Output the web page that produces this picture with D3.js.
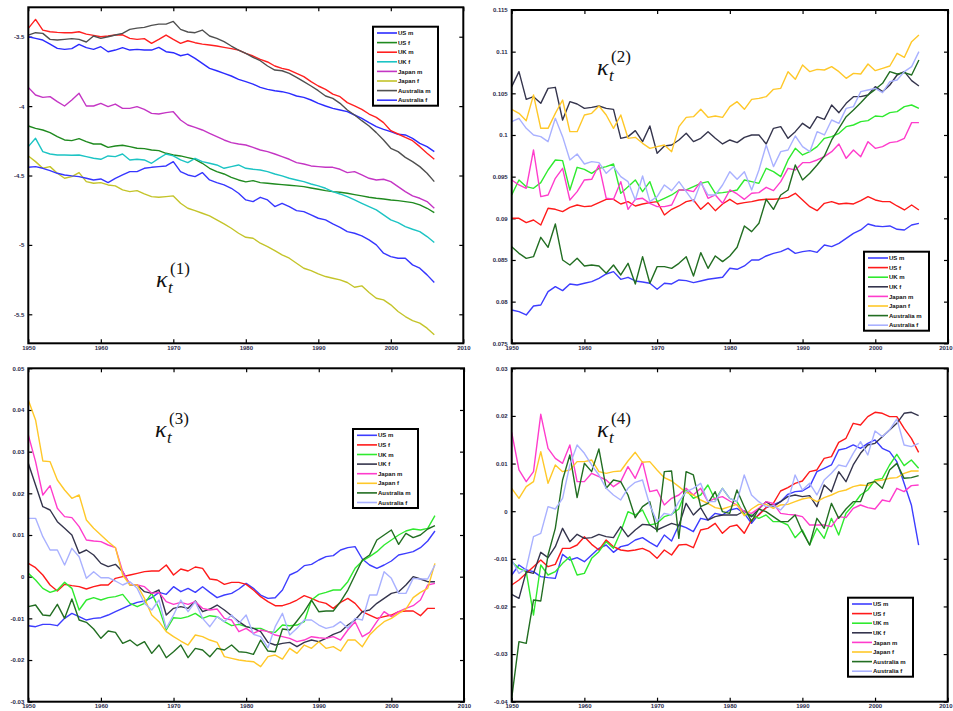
<!DOCTYPE html>
<html><head><meta charset="utf-8">
<script src="https://cdn.jsdelivr.net/npm/d3@7"></script>
<style>body{margin:0;background:#fff}svg{display:block}</style>
</head><body>
<svg id="chart" width="953" height="711"></svg>
<script>
// ---------- categories ----------
const years = d3.range(1950, 2007);
const seriesNames = ["US m","US f","UK m","UK f","Japan m","Japan f","Australia m","Australia f"];
const xTicks = [1950,1960,1970,1980,1990,2000,2010];
const k1YTicks = [-5.5,-5,-4.5,-4,-3.5];
const k2YTicks = [0.075,0.08,0.085,0.09,0.095,0.1,0.105,0.11,0.115];
const k3YTicks = [-0.03,-0.02,-0.01,0,0.01,0.02,0.03,0.04,0.05];
const k4YTicks = [-0.04,-0.03,-0.02,-0.01,0,0.01,0.02,0.03];

// ---------- kappa(1) ----------
const k1_USm = [-3.5,-3.512,-3.524,-3.553,-3.584,-3.591,-3.586,-3.555,-3.579,-3.591,-3.572,-3.608,-3.596,-3.579,-3.596,-3.591,-3.596,-3.596,-3.577,-3.608,-3.615,-3.637,-3.625,-3.656,-3.692,-3.728,-3.745,-3.764,-3.783,-3.807,-3.824,-3.841,-3.865,-3.879,-3.889,-3.896,-3.908,-3.927,-3.937,-3.956,-3.98,-3.999,-4.016,-4.028,-4.04,-4.064,-4.088,-4.119,-4.148,-4.167,-4.184,-4.203,-4.208,-4.232,-4.268,-4.292,-4.328];
const k1_USf = [-4.143,-4.16,-4.172,-4.191,-4.22,-4.244,-4.249,-4.234,-4.256,-4.273,-4.273,-4.297,-4.287,-4.282,-4.292,-4.304,-4.306,-4.316,-4.321,-4.34,-4.352,-4.359,-4.371,-4.383,-4.412,-4.448,-4.472,-4.489,-4.513,-4.532,-4.546,-4.537,-4.551,-4.556,-4.561,-4.566,-4.57,-4.575,-4.58,-4.59,-4.599,-4.609,-4.616,-4.621,-4.628,-4.638,-4.647,-4.657,-4.664,-4.669,-4.676,-4.681,-4.688,-4.695,-4.712,-4.736,-4.767];
const k1_UKm = [-3.44,-3.375,-3.452,-3.464,-3.469,-3.471,-3.471,-3.464,-3.481,-3.49,-3.5,-3.495,-3.488,-3.486,-3.512,-3.519,-3.514,-3.548,-3.519,-3.488,-3.519,-3.548,-3.529,-3.543,-3.553,-3.56,-3.567,-3.577,-3.586,-3.596,-3.62,-3.639,-3.663,-3.682,-3.711,-3.728,-3.74,-3.764,-3.788,-3.824,-3.855,-3.879,-3.913,-3.932,-3.975,-3.999,-4.023,-4.057,-4.081,-4.119,-4.177,-4.201,-4.225,-4.249,-4.292,-4.34,-4.383];
const k1_UKf = [-4.292,-4.232,-4.328,-4.345,-4.352,-4.352,-4.354,-4.352,-4.364,-4.376,-4.383,-4.359,-4.364,-4.345,-4.388,-4.383,-4.388,-4.412,-4.376,-4.345,-4.359,-4.388,-4.407,-4.376,-4.4,-4.412,-4.424,-4.448,-4.436,-4.424,-4.448,-4.455,-4.46,-4.472,-4.489,-4.503,-4.52,-4.532,-4.544,-4.561,-4.575,-4.592,-4.616,-4.633,-4.652,-4.676,-4.7,-4.724,-4.748,-4.784,-4.82,-4.839,-4.868,-4.887,-4.904,-4.94,-4.983];
const k1_JPm = [-3.865,-3.92,-3.937,-3.932,-3.968,-3.999,-3.956,-3.908,-3.999,-3.999,-3.98,-4.004,-3.985,-4.016,-4.016,-4.004,-4.023,-4.052,-4.057,-4.047,-4.04,-4.1,-4.136,-4.153,-4.172,-4.196,-4.22,-4.244,-4.263,-4.273,-4.28,-4.297,-4.316,-4.328,-4.345,-4.364,-4.383,-4.407,-4.417,-4.431,-4.436,-4.441,-4.441,-4.455,-4.479,-4.472,-4.496,-4.52,-4.532,-4.527,-4.544,-4.58,-4.616,-4.647,-4.664,-4.688,-4.736];
const k1_JPf = [-4.359,-4.4,-4.448,-4.436,-4.484,-4.52,-4.508,-4.479,-4.544,-4.556,-4.551,-4.568,-4.575,-4.604,-4.616,-4.609,-4.633,-4.652,-4.657,-4.652,-4.647,-4.7,-4.736,-4.753,-4.772,-4.791,-4.82,-4.849,-4.88,-4.916,-4.945,-4.952,-4.988,-5.012,-5.041,-5.072,-5.096,-5.132,-5.168,-5.185,-5.209,-5.228,-5.24,-5.252,-5.271,-5.305,-5.295,-5.343,-5.384,-5.396,-5.432,-5.48,-5.516,-5.545,-5.564,-5.6,-5.648];
const k1_AUm = [-3.488,-3.471,-3.476,-3.519,-3.524,-3.519,-3.514,-3.519,-3.538,-3.495,-3.512,-3.5,-3.488,-3.476,-3.447,-3.438,-3.433,-3.418,-3.409,-3.409,-3.39,-3.447,-3.466,-3.471,-3.452,-3.495,-3.512,-3.536,-3.567,-3.596,-3.62,-3.649,-3.673,-3.711,-3.74,-3.745,-3.764,-3.793,-3.824,-3.855,-3.889,-3.927,-3.944,-3.98,-4.028,-4.064,-4.105,-4.143,-4.191,-4.244,-4.304,-4.328,-4.369,-4.4,-4.436,-4.484,-4.544];
const k1_AUf = [-4.441,-4.436,-4.448,-4.465,-4.484,-4.496,-4.503,-4.508,-4.52,-4.532,-4.525,-4.551,-4.52,-4.496,-4.472,-4.472,-4.448,-4.441,-4.436,-4.431,-4.4,-4.472,-4.496,-4.508,-4.479,-4.532,-4.551,-4.568,-4.592,-4.628,-4.676,-4.688,-4.657,-4.676,-4.724,-4.7,-4.724,-4.753,-4.76,-4.784,-4.808,-4.82,-4.849,-4.873,-4.904,-4.916,-4.935,-4.964,-5.0,-5.06,-5.084,-5.096,-5.096,-5.144,-5.168,-5.216,-5.271];

// ---------- kappa(2) ----------
const k2_USm = [0.079,0.0788,0.0784,0.07948,0.0796,0.0812,0.0818,0.08132,0.08212,0.082,0.0822,0.0824,0.0828,0.08332,0.0836,0.08268,0.08292,0.08248,0.08236,0.0822,0.08148,0.0822,0.08212,0.0826,0.08252,0.08228,0.08248,0.08268,0.0828,0.08292,0.084,0.08388,0.08428,0.085,0.085,0.08548,0.0858,0.086,0.0864,0.0858,0.086,0.08612,0.08592,0.0868,0.0866,0.087,0.0876,0.0882,0.0886,0.08932,0.08908,0.089,0.08908,0.08868,0.0886,0.0892,0.0894];
const k2_USf = [0.09,0.09,0.08948,0.0898,0.0892,0.0912,0.09108,0.0908,0.09132,0.0916,0.0914,0.09148,0.09188,0.09228,0.09228,0.09172,0.092,0.09148,0.09172,0.09188,0.092,0.0904,0.09108,0.09148,0.092,0.0922,0.09108,0.09188,0.09092,0.09172,0.09228,0.09172,0.09188,0.092,0.0922,0.09228,0.09228,0.09236,0.09252,0.093,0.0922,0.0914,0.09092,0.0918,0.092,0.09172,0.0918,0.09172,0.09212,0.0926,0.0922,0.092,0.092,0.09148,0.091,0.0916,0.091];
const k2_UKm = [0.0928,0.0946,0.0938,0.0936,0.09428,0.0958,0.097,0.09692,0.0934,0.09612,0.09588,0.0954,0.096,0.0962,0.09652,0.093,0.0938,0.0946,0.0932,0.0944,0.092,0.0924,0.0928,0.0934,0.0934,0.0938,0.0942,0.0944,0.093,0.09308,0.0932,0.0934,0.0946,0.0944,0.0942,0.096,0.0956,0.095,0.097,0.0984,0.0976,0.098,0.0986,0.0996,0.0998,0.1002,0.101,0.1012,0.1016,0.10172,0.10228,0.1022,0.10268,0.1028,0.1034,0.1036,0.1032];
const k2_UKf = [0.1058,0.1076,0.10428,0.1046,0.1038,0.1056,0.10572,0.1018,0.104,0.10372,0.1032,0.10332,0.10348,0.1032,0.10308,0.0996,0.0998,0.10052,0.0992,0.10108,0.0978,0.09868,0.0988,0.0994,0.1002,0.0992,0.0996,0.1004,0.0996,0.09892,0.0994,0.09908,0.09972,0.1,0.1,0.09892,0.1008,0.101,0.0996,0.1004,0.1014,0.1008,0.1022,0.10188,0.1036,0.10268,0.1038,0.1046,0.1046,0.1048,0.1058,0.1052,0.106,0.1072,0.1076,0.10652,0.10588];
const k2_JPm = [0.0946,0.094,0.0936,0.0982,0.0926,0.0928,0.0948,0.096,0.0922,0.0932,0.0946,0.09468,0.0964,0.0924,0.09228,0.0944,0.09108,0.09228,0.0924,0.0918,0.0914,0.0914,0.0916,0.0934,0.0934,0.0932,0.0944,0.0924,0.0928,0.0918,0.0934,0.09292,0.09228,0.093,0.09308,0.09372,0.09332,0.0944,0.096,0.0958,0.09668,0.09668,0.097,0.0974,0.098,0.09892,0.0972,0.0982,0.0974,0.0992,0.0984,0.0986,0.09908,0.0992,0.0996,0.10148,0.10148];
const k2_JPf = [0.10308,0.1026,0.10172,0.1048,0.1008,0.1008,0.1026,0.1042,0.1004,0.1004,0.1024,0.1026,0.10348,0.1024,0.1008,0.1024,0.0996,0.09972,0.099,0.0984,0.0986,0.0988,0.098,0.101,0.10212,0.1022,0.10308,0.10212,0.10228,0.10212,0.1034,0.104,0.10308,0.10428,0.1044,0.1046,0.10548,0.1056,0.1076,0.10668,0.1084,0.1076,0.10788,0.1078,0.1082,0.1076,0.1068,0.1074,0.10732,0.10852,0.10772,0.108,0.10828,0.1098,0.10932,0.1112,0.112];
const k2_AUm = [0.0866,0.0858,0.0852,0.0854,0.08772,0.08652,0.08932,0.085,0.0844,0.0852,0.08428,0.0844,0.08428,0.0834,0.0844,0.0832,0.0846,0.08212,0.0854,0.0822,0.0842,0.0842,0.084,0.0846,0.0854,0.08308,0.08588,0.084,0.08548,0.0848,0.08548,0.08652,0.08908,0.0884,0.0894,0.09228,0.09108,0.0928,0.0934,0.0964,0.0946,0.0954,0.0964,0.09748,0.0994,0.1008,0.1022,0.103,0.10388,0.1048,0.10548,0.1062,0.1076,0.10732,0.10748,0.1072,0.109];
const k2_AUf = [0.1016,0.102,0.1008,0.1,0.0998,0.0992,0.102,0.0998,0.097,0.09772,0.09652,0.0968,0.09668,0.0954,0.0962,0.095,0.0944,0.0922,0.09508,0.092,0.0926,0.094,0.09332,0.0944,0.0932,0.092,0.09428,0.0928,0.0928,0.094,0.0956,0.09468,0.0956,0.0934,0.0958,0.0988,0.0962,0.098,0.0982,0.09988,0.0986,0.098,0.1004,0.1,0.1018,0.1014,0.1032,0.1034,0.1052,0.1054,0.1056,0.10508,0.1064,0.1066,0.1076,0.1082,0.11];

// ---------- kappa(3) ----------
const k3_USm = [-0.01176,-0.012,-0.01144,-0.01144,-0.01176,-0.01,-0.0088,-0.0096,-0.0104,-0.01,-0.00984,-0.0092,-0.0084,-0.0076,-0.0068,-0.00616,-0.00584,-0.00504,-0.00376,-0.00424,-0.0024,-0.0036,-0.0028,-0.00376,-0.0024,-0.00376,-0.00504,-0.0044,-0.004,-0.00296,-0.0016,-0.0028,-0.0044,-0.0052,-0.00504,-0.0032,0.0004,0.0012,0.00264,0.00296,0.004,0.0048,0.00504,0.0064,0.00696,0.0072,0.00424,0.0028,0.002,0.0028,0.00376,0.0052,0.0056,0.006,0.00696,0.00856,0.01096];
const k3_USf = [0.0032,0.00216,0.0004,-0.002,-0.00344,-0.00184,-0.00216,-0.0024,-0.00296,-0.0024,-0.002,-0.002,-0.0004,0,0.0004,0.0008,0.0012,0.00136,0.00136,0.0028,0.0004,0.00184,0.00136,0.00232,0.002,-0.00056,-0.0008,-0.00184,-0.00136,-0.00136,-0.00184,-0.0032,-0.0048,-0.006,-0.00696,-0.00696,-0.0064,-0.0056,-0.00456,-0.0052,-0.006,-0.0064,-0.0076,-0.00616,-0.0052,-0.0064,-0.0084,-0.0092,-0.01,-0.0096,-0.0092,-0.0084,-0.00824,-0.00824,-0.00936,-0.0076,-0.0076];
const k3_UKm = [0.0008,-0.0008,-0.0028,-0.00376,-0.0032,-0.00136,-0.0028,-0.008,-0.0056,-0.00504,-0.0056,-0.00504,-0.0048,-0.00424,-0.0064,-0.0072,-0.0064,-0.004,-0.0076,-0.0128,-0.00984,-0.01,-0.0096,-0.0088,-0.01,-0.00936,-0.0096,-0.0108,-0.01176,-0.01144,-0.012,-0.0124,-0.0124,-0.0132,-0.01336,-0.0116,-0.01176,-0.0116,-0.0108,-0.0056,-0.00424,-0.00376,-0.0032,-0.0032,-0.0012,0.002,0.00376,0.0048,0.006,0.0076,0.0088,0.01,0.01096,0.01144,0.0112,0.0116,0.01464];
const k3_UKf = [0.0272,0.022,0.0168,0.016,0.0132,0.0116,0.01,0.0056,0.0064,0.0052,0.0032,0.0024,0.00296,0.0012,-0.002,-0.002,-0.0036,-0.004,-0.0032,-0.0092,-0.0076,-0.0072,-0.0076,-0.00584,-0.0084,-0.00776,-0.0068,-0.008,-0.00936,-0.0108,-0.012,-0.0124,-0.0132,-0.01576,-0.0164,-0.016,-0.01576,-0.0168,-0.01576,-0.0152,-0.0156,-0.0148,-0.01384,-0.0132,-0.0116,-0.0104,-0.0084,-0.008,-0.0064,-0.0052,-0.004,-0.0036,-0.002,0,-0.00056,-0.0012,-0.0012];
const k3_JPm = [0.034,0.0276,0.0196,0.02184,0.0164,0.0144,0.01416,0.012,0.0088,0.00856,0.0084,0.0076,0.00696,0.0012,-0.00184,-0.002,-0.0024,-0.004,-0.00376,-0.006,-0.00664,-0.00616,-0.00664,-0.006,-0.0076,-0.008,-0.00776,-0.01,-0.0104,-0.0132,-0.0124,-0.0136,-0.0128,-0.0132,-0.014,-0.0144,-0.0148,-0.0156,-0.0152,-0.0144,-0.01464,-0.0148,-0.0144,-0.0152,-0.0128,-0.0108,-0.0144,-0.01336,-0.0108,-0.0084,-0.0096,-0.0084,-0.0076,-0.00696,-0.0056,-0.002,-0.0016];
const k3_JPf = [0.0424,0.0376,0.02776,0.0276,0.0232,0.0208,0.0188,0.0196,0.0136,0.0116,0.01,0.0084,0.00696,0.0004,-0.002,-0.002,-0.0052,-0.0092,-0.0108,-0.0132,-0.0144,-0.01544,-0.0164,-0.014,-0.0144,-0.0152,-0.01576,-0.0192,-0.0196,-0.02,-0.02024,-0.0204,-0.0216,-0.0192,-0.0188,-0.01976,-0.0172,-0.0184,-0.0164,-0.0172,-0.0156,-0.0172,-0.0168,-0.01784,-0.0152,-0.0152,-0.0168,-0.014,-0.01224,-0.0108,-0.01,-0.0088,-0.00776,-0.00504,-0.00376,-0.0028,0.0032];
const k3_AUm = [-0.0072,-0.0068,-0.0092,-0.00936,-0.00664,-0.01,-0.00536,-0.0104,-0.01096,-0.01256,-0.0148,-0.01304,-0.01336,-0.016,-0.0152,-0.01656,-0.0156,-0.0184,-0.0164,-0.01944,-0.018,-0.0164,-0.01944,-0.0172,-0.0176,-0.0192,-0.0172,-0.0176,-0.0164,-0.018,-0.01816,-0.01864,-0.0152,-0.01784,-0.018,-0.01256,-0.0128,-0.01064,-0.0084,-0.0056,-0.0084,-0.00824,-0.00824,-0.006,-0.0032,0.0004,0.004,0.0052,0.0088,0.01,0.0112,0.00776,0.0104,0.00936,0.01,0.01144,0.01224];
const k3_AUf = [0.014,0.014,0.0096,0.0064,0.0064,0.0028,0.0068,0.0048,-0.0004,0.0012,-0.00024,-0.00024,-0.00104,-0.002,-0.0012,-0.0028,-0.0064,-0.008,-0.0056,-0.0124,-0.0092,-0.0056,-0.0084,-0.006,-0.01,-0.012,-0.0096,-0.0108,-0.0092,-0.0112,-0.0092,-0.01384,-0.0144,-0.01704,-0.012,-0.0088,-0.014,-0.0124,-0.0104,-0.0104,-0.0116,-0.0124,-0.012,-0.0108,-0.0124,-0.01,-0.0104,-0.0044,-0.0044,0.0012,-0.0004,-0.004,-0.004,-0.0004,-0.00056,-0.00056,0.0028];

// ---------- kappa(4) ----------
const k4_USm = [-0.0134,-0.0113,-0.01235,-0.0127,-0.01375,-0.01396,-0.0141,-0.00906,-0.01025,-0.00976,-0.0106,-0.0092,-0.0078,-0.0071,-0.00864,-0.00745,-0.0071,-0.00605,-0.00556,-0.00654,-0.00745,-0.005,-0.00626,-0.0029,-0.00346,-0.0043,-0.0015,-0.00185,-0.00045,-0.0008,0.00025,0.0006,-0.00045,-0.00255,-0.00066,0.00074,0.0013,0.002,0.00354,0.0041,0.00424,0.00515,0.0083,0.009,0.0097,0.01285,0.0132,0.0139,0.0132,0.01425,0.01495,0.0132,0.0125,0.0104,0.00585,0.0013,-0.0071];
const k4_USf = [-0.0155,-0.01445,-0.01305,-0.01165,-0.01025,-0.01165,-0.01116,-0.0078,-0.0078,-0.0071,-0.00535,-0.00696,-0.00815,-0.00605,-0.00745,-0.00815,-0.00836,-0.00815,-0.0078,-0.0085,-0.0099,-0.00815,-0.0092,-0.0071,-0.00696,-0.00766,-0.00395,-0.0036,-0.00255,-0.00465,-0.00325,-0.0029,-0.00465,-0.00185,-0.0008,0.00074,0.00165,0.00424,0.00494,0.00585,0.00634,0.0083,0.00865,0.0111,0.01145,0.01446,0.0153,0.01845,0.0181,0.01985,0.02076,0.02055,0.01985,0.01985,0.0174,0.0153,0.01236];
const k4_UKm = [-0.0106,-0.012,-0.0127,-0.0218,-0.0113,-0.0134,-0.0127,-0.01095,-0.00955,-0.0134,-0.01305,-0.0099,-0.0085,-0.0064,-0.0078,-0.0043,-0.0001,-0.0008,0.00025,-0.0029,-0.00255,-0.00115,-0.00066,0.00046,0.00445,0.0027,0.0034,0.0055,0.00235,0.0048,0.0027,0.002,-0.00066,-0.0008,-0.0015,-0.0008,-0.0022,-0.0022,-0.0029,-0.00556,-0.00395,-0.0071,-0.0036,-0.0057,-0.0015,-0.005,-0.00045,0.0013,0.0034,0.00445,0.00655,0.0069,0.0097,0.01194,0.00956,0.01075,0.009];
const k4_UKf = [-0.01746,-0.0183,-0.0127,-0.01305,-0.00864,-0.00976,-0.00745,-0.0036,-0.0064,-0.00486,-0.0057,-0.00556,-0.00486,-0.00535,-0.00556,-0.00325,-0.00535,-0.00395,-0.00276,-0.0029,-0.00395,-0.00325,-0.00255,-0.00304,0.00165,-0.0008,0.00074,-0.00185,-0.00115,-0.0008,-0.0008,-0.0008,0.00004,-0.00115,0.00046,0.002,0.00095,0.002,0.00305,0.0034,0.00305,0.00326,0.00095,0.0055,0.0041,0.0083,0.0062,0.0097,0.01215,0.0139,0.01425,0.01565,0.01705,0.01845,0.02055,0.02076,0.02006];
const k4_JPm = [0.01656,0.00865,0.0062,0.0083,0.02034,0.0132,0.0111,0.01005,0.0139,0.0062,0.0062,0.00795,0.00725,0.00655,0.00515,0.0062,0.00935,0.0069,0.0104,0.0041,0.00445,0.0013,0.0027,0.0034,0.0048,0.0034,0.0048,0.002,0.0027,0.00305,0.00214,0.0013,-0.0001,-0.00045,0.0006,0.002,0.00165,-0.00045,-0.00066,-0.0008,-0.00115,-0.0029,-0.0029,-0.0029,-0.00325,-0.00115,-0.00136,0.0006,0.0013,0.00074,0.00046,0.00235,0.002,0.0048,0.0041,0.00536,0.0055];
const k4_JPf = [0.0048,0.0027,0.00515,0.0062,0.0125,0.00585,0.0097,0.0083,0.00865,0.0104,0.0104,0.01075,0.0083,0.00795,0.0083,0.00844,0.01054,0.01236,0.01026,0.0104,0.00865,0.00704,0.00634,0.00515,0.00396,0.0034,0.00235,0.00165,0.00074,0.00046,0.00095,0.00144,-0.00094,0.00046,0.00144,0.00144,0.0006,0.0013,0.00144,0.002,0.00256,0.00284,0.002,0.00284,0.0034,0.0041,0.00445,0.00515,0.0055,0.00536,0.00634,0.00655,0.0069,0.00704,0.00795,0.00844,0.00844];
const k4_AUm = [-0.0393,-0.0274,-0.02775,-0.01865,-0.01886,-0.0092,-0.0036,0.00655,0.0118,0.00284,0.01005,0.0083,0.01306,0.0048,0.00655,0.0062,0.0034,-0.00136,0.00095,0.002,-0.0043,0.0083,0.00844,-0.0057,0.0083,0.0076,0.00095,0.00165,0.0041,-0.0001,-0.00045,0.00445,0.00095,-0.0022,0.00046,-0.0001,-0.00115,-0.0022,-0.0022,-0.0008,-0.0043,-0.0071,-0.0015,-0.0036,0.00165,-0.0015,0.00046,0.002,0.002,0.00585,0.0062,0.0048,0.00865,0.01004,0.0069,0.00704,0.00746];
const k4_AUf = [-0.01025,-0.01305,-0.012,-0.00535,-0.00465,0.00095,0.00046,0.0027,0.0097,0.0139,0.01215,0.0097,0.0076,0.0048,0.0034,0.00235,0.0048,0.00606,0.00655,0.0013,-0.0022,-0.00045,-0.0008,0.002,0.0041,0.0048,0.00585,0.002,0.002,0.0048,0.0027,0.002,0.0076,0.0034,0.002,0.00095,0.00116,0.00025,0.002,0.0076,0.00445,0.00585,0.0034,0.00655,0.00795,0.0097,0.00935,0.01215,0.0146,0.0118,0.01684,0.01565,0.01705,0.01936,0.0139,0.01355,0.01425];

// ---------- styles ----------
const colorsK1 = ["#2b2bff","#1f8a1f","#ff2020","#1cc4c4","#c435c4","#c4c42a","#505050","#3636ff"];
const colorsOther = ["#3d3dff","#ff1a1a","#2fea2f","#35354d","#ff3ccc","#ffc829","#226e22","#a9b1ff"];

const panels = [
  {series:[k1_USm,k1_USf,k1_UKm,k1_UKf,k1_JPm,k1_JPf,k1_AUm,k1_AUf], colors:colorsK1, yTicks:k1YTicks,
   yDom:[-5.709,-3.288], box:{l:28.3,r:463.3,t:7.3,b:343.3}, leg:{x:373,y:26.7},
   kap:{x:156,y:287,n:"1"}},
  {series:[k2_USm,k2_USf,k2_UKm,k2_UKf,k2_JPm,k2_JPf,k2_AUm,k2_AUf], colors:colorsOther, yTicks:k2YTicks,
   yDom:[0.075,0.115], box:{l:511.7,r:948,t:10,b:343.3}, leg:{x:864,y:251.7},
   kap:{x:597,y:75,n:"2"}},
  {series:[k3_USm,k3_USf,k3_UKm,k3_UKf,k3_JPm,k3_JPf,k3_AUm,k3_AUf], colors:colorsOther, yTicks:k3YTicks,
   yDom:[-0.03,0.05], box:{l:28.3,r:464,t:368.3,b:701.7}, leg:{x:353,y:429},
   kap:{x:155,y:437,n:"3"}},
  {series:[k4_USm,k4_USf,k4_UKm,k4_UKf,k4_JPm,k4_JPf,k4_AUm,k4_AUf], colors:colorsOther, yTicks:k4YTicks,
   yDom:[-0.04,0.03], box:{l:511.7,r:947.7,t:368.3,b:701.7}, leg:{x:848,y:597.7},
   kap:{x:597,y:437,n:"4"}}
];

const svg = d3.select("#chart");
const tickFont = "Liberation Sans, Arial, sans-serif";

panels.forEach((p, pi) => {
  const B = p.box;
  const x = d3.scaleLinear().domain([1950, 2010]).range([B.l, B.r]);
  const y = d3.scaleLinear().domain(p.yDom).range([B.b, B.t]);
  const g = svg.append("g");

  g.append("clipPath").attr("id", "clip" + pi)
    .append("rect").attr("x", B.l).attr("y", B.t).attr("width", B.r - B.l).attr("height", B.b - B.t);

  const styleAxis = sel => {
    sel.select(".domain").remove();
    sel.selectAll("line").attr("stroke", "#000").attr("stroke-width", 1.2);
    sel.selectAll("text").attr("font-size", 6).attr("font-weight", "bold")
      .attr("font-family", tickFont).attr("fill", "#2a2a4a");
  };
  const xb = g.append("g").attr("transform", `translate(0,${B.b})`)
    .call(d3.axisBottom(x).tickValues(xTicks).tickSize(-4).tickSizeOuter(0).tickPadding(2).tickFormat(d => String(d)))
    .call(styleAxis);
  // keep the last label inside the page
  xb.selectAll(".tick text").filter(d => x(d) + 8 > 953).attr("text-anchor", "end").attr("dx", 953 - B.r - 1);
  g.append("g").attr("transform", `translate(0,${B.t})`)
    .call(d3.axisTop(x).tickValues(xTicks).tickSize(-4).tickSizeOuter(0).tickFormat(() => ""))
    .call(styleAxis);
  g.append("g").attr("transform", `translate(${B.l},0)`)
    .call(d3.axisLeft(y).tickValues(p.yTicks).tickSize(-4).tickSizeOuter(0).tickPadding(4).tickFormat(d => String(d)))
    .call(styleAxis);
  g.append("g").attr("transform", `translate(${B.r},0)`)
    .call(d3.axisRight(y).tickValues(p.yTicks).tickSize(-4).tickSizeOuter(0).tickFormat(() => ""))
    .call(styleAxis);

  const line = d3.line().x(d => x(d[0])).y(d => y(d[1]));
  const lg = g.append("g").attr("clip-path", `url(#clip${pi})`);
  p.series.forEach((s, si) => {
    const pts = s.map((v, i) => [years[i], v]);
    lg.append("path").datum(pts).attr("d", line)
      .attr("fill", "none").attr("stroke", p.colors[si]).attr("stroke-width", 1.4)
      .attr("stroke-linejoin", "round");
  });

  g.append("rect").attr("x", B.l).attr("y", B.t).attr("width", B.r - B.l).attr("height", B.b - B.t)
    .attr("fill", "none").attr("stroke", "#000").attr("stroke-width", 2);

  // kappa label
  const K = p.kap;
  const kt = g.append("g").attr("font-family", "Liberation Serif, DejaVu Serif, serif").attr("fill", "#111");
  kt.append("text").attr("x", K.x).attr("y", K.y).attr("font-size", 24).attr("font-style", "italic").text("κ");
  kt.append("text").attr("x", K.x + 12).attr("y", K.y + 6).attr("font-size", 17).attr("font-style", "italic").text("t");
  kt.append("text").attr("x", K.x + 14).attr("y", K.y - 13).attr("font-size", 17).text("(" + K.n + ")");

  // legend
  const L = p.leg, lw = 65, lh = 79, step = 9.6;
  const leg = g.append("g");
  leg.append("rect").attr("x", L.x).attr("y", L.y).attr("width", lw).attr("height", lh)
    .attr("fill", "#fff").attr("stroke", "#000").attr("stroke-width", 2);
  seriesNames.forEach((nm, i) => {
    const yy = L.y + 6.3 + i * step;
    leg.append("line").attr("x1", L.x + 4).attr("x2", L.x + 24).attr("y1", yy).attr("y2", yy)
      .attr("stroke", p.colors[i]).attr("stroke-width", 1.6);
    leg.append("text").attr("x", L.x + 25).attr("y", yy).attr("dy", "0.35em")
      .attr("font-size", 6).attr("font-weight", "bold").attr("font-family", tickFont).attr("fill", "#111").text(nm);
  });
});
</script>
</body></html>
